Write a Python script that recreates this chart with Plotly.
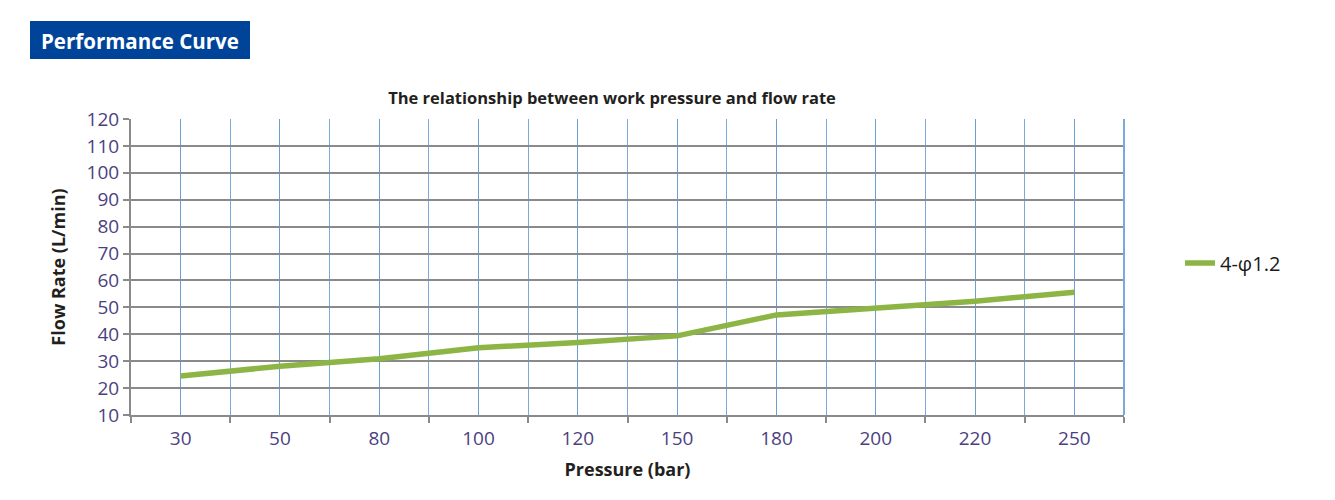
import plotly.graph_objects as go

# pressure categories (bar) and flow rate (L/min)
pressure = ['30', '50', '80', '100', '120', '150', '180', '200', '220', '250']
flow_rate = [24.5, 28.1, 30.9, 35.0, 36.9, 39.4, 47.2, 49.8, 52.3, 55.6]
series_name = '4-φ1.2'

y_ticks = list(range(10, 121, 10))

# plot area in screen pixels; the page body adds an 8px margin
OFF = 8
L, R, T, B = 131 - OFF, 1124 - OFF, 119 - OFF, 415 - OFF
W, H = 1335, 500

def px_x(p):
    return (p - OFF - L) / (R - L)

def px_y(p):
    return (B - (p - OFF)) / (B - T)

pos = list(range(len(pressure)))

fig = go.Figure()
fig.add_trace(go.Scatter(
    x=pos, y=flow_rate, mode='lines', name=series_name,
    line=dict(color='#8db545', width=5.5),
))

tick_font = dict(family='Open Sans', size=19, color='#4c3f7f')

fig.update_layout(
    width=W, height=H,
    margin=dict(l=L, r=W - R, t=T, b=H - B),
    paper_bgcolor='white', plot_bgcolor='white',
    showlegend=True,
    legend=dict(x=px_x(1180), y=px_y(263), xanchor='left', yanchor='middle',
                font=dict(family='Open Sans', size=20, color='#1a1a1a')),
    title=dict(text='<b>The relationship between work pressure and flow rate</b>',
               x=(612 - OFF) / W, xanchor='center',
               y=1 - (98 - OFF) / H, yanchor='middle',
               font=dict(family='Open Sans', size=16.5, color='#231f20')),
    xaxis=dict(
        range=[-0.5, len(pressure) - 0.5],
        tickmode='array', tickvals=pos, ticktext=pressure,
        ticks='', tickfont=tick_font, ticklabelstandoff=5,
        showgrid=True, gridcolor='#6b9fd6', gridwidth=1,
        showline=True, linecolor='#8a8a8a', linewidth=2,
        zeroline=False,
        minor=dict(tick0=-0.5, dtick=1, ticks='outside', ticklen=6,
                   tickcolor='#8a8a8a', tickwidth=2,
                   showgrid=True, gridcolor='#7aa9dc', gridwidth=1),
        title=dict(text='<b>Pressure (bar)</b>', standoff=14,
                   font=dict(family='Open Sans', size=18, color='#231f20')),
    ),
    yaxis=dict(
        range=[10, 120], tickmode='array', tickvals=y_ticks,
        ticks='outside', ticklen=6, tickcolor='#8a8a8a', tickwidth=2,
        tickfont=tick_font,
        showgrid=True, gridcolor='#8a8a8a', gridwidth=2,
        showline=True, linecolor='#8a8a8a', linewidth=2,
        zeroline=False,
        title=dict(text='<b>Flow Rate (L/min)</b>', standoff=16,
                   font=dict(family='Open Sans', size=18, color='#231f20')),
    ),
)

# right edge of plot area
fig.add_shape(type='line', xref='paper', yref='paper', x0=1, x1=1, y0=0, y1=1,
              line=dict(color='#7aa9dc', width=2))

# heading box
fig.add_shape(type='rect', xref='paper', yref='paper',
              x0=px_x(30), x1=px_x(250), y0=px_y(59), y1=px_y(21),
              fillcolor='#00449a', line=dict(width=0), layer='above')
fig.add_annotation(text='<b>Performance Curve</b>', xref='paper', yref='paper',
                   x=px_x(140), y=px_y(41), xanchor='center', yanchor='middle',
                   showarrow=False,
                   font=dict(family='Open Sans', size=20.5, color='white'))

fig.write_html('out.html')
